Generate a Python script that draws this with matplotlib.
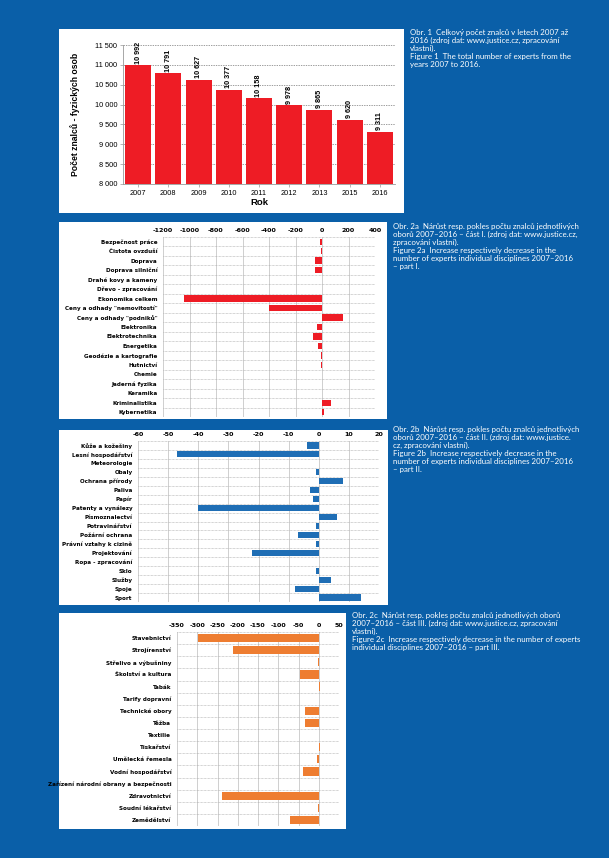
import numpy as np
import matplotlib.pyplot as plt
from matplotlib.patches import Rectangle

# Obr. 1 - total number of experts
years = ["2007", "2008", "2009", "2010", "2011", "2012", "2013", "2015", "2016"]
experts = [10992, 10791, 10627, 10377, 10158, 9978, 9865, 9620, 9311]

# Obr. 2a - change 2007-2016, part I
cat_a = ["Bezpečnost práce", "Čistota ovzduší", "Doprava", "Doprava silniční",
         "Drahé kovy a kameny", "Dřevo - zpracování", "Ekonomika celkem",
         "Ceny a odhady \"nemovitostí\"", "Ceny a odhady \"podniků\"", "Elektronika",
         "Elektrotechnika", "Energetika", "Geodézie a kartografie", "Hutnictví",
         "Chemie", "Jaderná fyzika", "Keramika", "Kriminalistika", "Kybernetika"]
val_a = [-12, -10, -55, -50, 0, -3, -1040, -400, 160, -40, -65, -28, -10, -4,
         0, 0, 0, 70, 18]

# Obr. 2b - part II
cat_b = ["Kůže a kožešiny", "Lesní hospodářství", "Meteorologie", "Obaly",
         "Ochrana přírody", "Paliva", "Papír", "Patenty a vynálezy", "Písmoznalectví",
         "Potravinářství", "Požární ochrana", "Právní vztahy k cizině", "Projektování",
         "Ropa - zpracování", "Sklo", "Služby", "Spoje", "Sport"]
val_b = [-4, -47, 0, -1, 8, -3, -2, -40, 6, -1, -7, -1, -22, 0, -1, 4, -8, 14]

# Obr. 2c - part III
cat_c = ["Stavebnictví", "Strojírenství", "Střelivo a výbušniny", "Školství a kultura",
         "Tabák", "Tarify dopravní", "Technické obory", "Těžba", "Textilie",
         "Tiskařství", "Umělecká řemesla", "Vodní hospodářství",
         "Zařízení národní obrany a bezpečnosti", "Zdravotnictví", "Soudní lékařství",
         "Zemědělství"]
val_c = [-298, -212, -1, -46, 3, 0, -35, -33, 0, 2, -5, -38, 0, -240, -3, -72]

W, H = 609, 858
BLUE = "#0a5fa8"

plt.rcParams['font.family'] = ['Liberation Sans', 'DejaVu Sans']
plt.rcParams['axes.unicode_minus'] = False
fig = plt.figure(figsize=(W / 100, H / 100), dpi=100, facecolor=BLUE)


def panel(l, t, r, b):
    fig.add_artist(Rectangle((l / W, 1 - b / H), (r - l) / W, (b - t) / H,
                             transform=fig.transFigure, facecolor="white",
                             edgecolor="none", zorder=0))


def axes_px(l, t, r, b):
    return fig.add_axes([l / W, 1 - b / H, (r - l) / W, (b - t) / H])


def caption(x, y, lines):
    fig.text(x / W, 1 - y / H, "\n".join(lines), color="white", fontsize=5.7,
             va="top", ha="left", linespacing=1.15, family=['Lato', 'DejaVu Sans'])


panel(59, 29, 404, 213)
panel(59, 222, 387, 419)
panel(59, 430, 388, 605)
panel(59, 613, 346, 829)

# ---- Figure 1 ----
ax = axes_px(123, 45, 395, 184)
x = np.arange(len(years))
ax.bar(x, experts, width=0.86, color="#ee1c25", zorder=3)
ax.set_ylim(8000, 11500)
ax.set_xlim(-0.5, len(years) - 0.5)
yt = np.arange(8000, 11501, 500)
ax.set_yticks(yt)
ax.set_yticklabels([f"{v:,}".replace(",", " ") for v in yt], fontsize=5.3)
ax.set_xticks(x)
ax.set_xticklabels(years, fontsize=5.3)
ax.grid(axis="y", ls=(0, (2, 1.5)), color="#777777", lw=0.5, zorder=0)
for s in ["top", "right"]:
    ax.spines[s].set_visible(False)
for s in ["left", "bottom"]:
    ax.spines[s].set_color("#999999")
    ax.spines[s].set_linewidth(0.6)
ax.tick_params(length=2, width=0.5, color="#999999", pad=2)
for xi, v in zip(x, experts):
    ax.text(xi, v + 40, f"{v:,}".replace(",", " "), rotation=90, ha="center",
            va="bottom", fontsize=5.2, fontweight="bold", clip_on=False)
ax.set_ylabel("Počet znalců - fyzických osob", fontsize=6.2, fontweight="bold", labelpad=11)
ax.set_xlabel("Rok", fontsize=6.8, fontweight="bold", labelpad=1)

caption(410, 29, ["Obr. 1  Celkový počet znalců v letech 2007 až",
                  "2016 (zdroj dat: www.justice.cz, zpracování",
                  "vlastní).",
                  "Figure 1  The total number of experts from the",
                  "years 2007 to 2016."])


def hbars(ax, cats, vals, color, xlim, step):
    n = len(cats)
    y = np.arange(n)
    ax.barh(y, vals, height=0.68, color=color, zorder=3)
    ax.set_ylim(n - 0.5, -0.5)
    ax.set_xlim(*xlim)
    ax.set_xticks(np.arange(xlim[0], xlim[1] + step / 2, step))
    ax.xaxis.tick_top()
    ax.set_yticks(y)
    ax.set_yticklabels(cats, fontsize=4.1, fontweight="bold",
                       family=['DejaVu Sans'])
    ax.set_yticks(np.arange(-0.5, n), minor=True)
    ax.tick_params(axis="x", labelsize=4.6, length=0, pad=3)
    ax.tick_params(axis="both", which="both", length=0)
    ax.tick_params(axis="y", pad=4)
    for lab in ax.get_xticklabels():
        lab.set_fontweight("bold")
        lab.set_family(['DejaVu Sans'])
    ax.grid(axis="x", color="#c8c8c8", lw=0.6, zorder=0)
    ax.grid(axis="y", which="minor", color="#aaaaaa", lw=0.5, ls=(0, (1, 1)), zorder=0)
    for s in ax.spines.values():
        s.set_visible(False)


ax = axes_px(163, 237, 375, 417)
hbars(ax, cat_a, val_a, "#ee1c25", (-1200, 400), 200)
caption(393, 223, ["Obr. 2a  Nárůst resp. pokles počtu znalců jednotlivých",
                   "oborů 2007–2016 – část I. (zdroj dat: www.justice.cz,",
                   "zpracování vlastní).",
                   "Figure 2a  Increase respectively decrease in the",
                   "number of experts individual disciplines 2007–2016",
                   "– part I."])

ax = axes_px(138, 441, 379, 602)
hbars(ax, cat_b, val_b, "#1f6eb5", (-60, 20), 10)
caption(393, 426, ["Obr. 2b  Nárůst resp. pokles počtu znalců jednotlivých",
                   "oborů 2007–2016 – část II. (zdroj dat: www.justice.",
                   "cz, zpracování vlastní).",
                   "Figure 2b  Increase respectively decrease in the",
                   "number of experts individual disciplines 2007–2016",
                   "– part II."])

ax = axes_px(177, 632, 339, 826)
hbars(ax, cat_c, val_c, "#ee7d31", (-350, 50), 50)
caption(352, 612, ["Obr. 2c  Nárůst resp. pokles počtu znalců jednotlivých oborů",
                   "2007–2016 – část III. (zdroj dat: www.justice.cz, zpracování",
                   "vlastní).",
                   "Figure 2c  Increase respectively decrease in the number of experts",
                   "individual disciplines 2007–2016 – part III."])

fig.savefig("out.png", dpi=100, facecolor=BLUE)
